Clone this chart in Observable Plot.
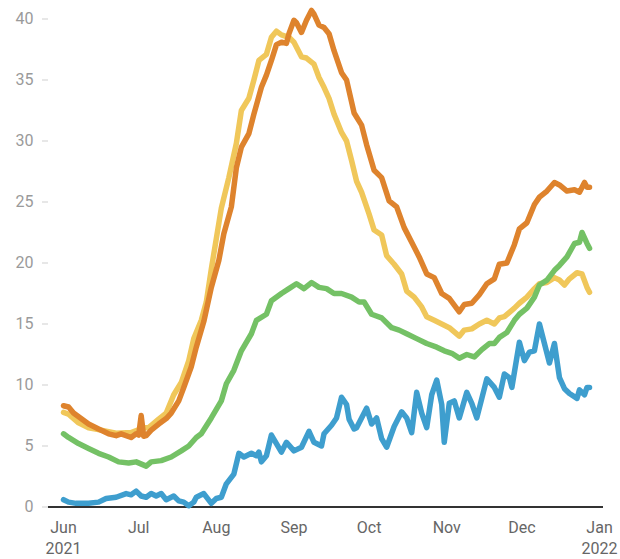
<!DOCTYPE html>
<html>
<head>
<meta charset="utf-8">
<script src="https://cdn.jsdelivr.net/npm/d3@7"></script>
<script src="https://cdn.jsdelivr.net/npm/@observablehq/plot@0.6"></script>
<style>
  html, body { margin: 0; padding: 0; background: #fff; overflow: hidden; }
</style>
</head>
<body>
<div id="chart"></div>
<script>
// Day index counted from 1 June 2021
const startDate = "2021-06-01";

const orangeSeries = [[0,8.3],[2,8.2],[4,7.7],[7,7.25],[10,6.8],[14,6.4],[18,6.0],[21,5.85],[23,6.0],[27,5.7],[29,6.0],[30,5.9],[31,7.5],[32,5.8],[33,5.85],[35,6.3],[38,6.8],[41,7.25],[43,7.7],[46,8.7],[48,9.8],[51,11.5],[53,13.1],[56,15.2],[59,18.0],[62,20.2],[64,22.4],[67,24.6],[69,27.8],[71,29.5],[74,30.6],[76,32.2],[79,34.4],[81,35.4],[83,36.6],[85,37.9],[87,38.1],[89,38.0],[90,38.8],[92,39.9],[93,39.7],[95,38.9],[97,39.9],[99,40.7],[100,40.4],[102,39.5],[104,39.3],[106,38.8],[108,37.4],[111,35.6],[113,35.0],[116,32.3],[119,31.3],[121,29.7],[124,27.6],[127,27.0],[130,25.1],[133,24.6],[136,22.9],[139,21.7],[142,20.5],[145,19.1],[148,18.8],[151,17.5],[154,17.1],[158,16.0],[160,16.6],[163,16.7],[166,17.4],[169,18.3],[172,18.7],[174,19.9],[177,20.0],[180,21.5],[182,22.8],[185,23.3],[188,24.8],[190,25.4],[193,25.9],[196,26.6],[198,26.4],[201,25.9],[204,26.0],[206,25.8],[208,26.6],[209,26.2],[210,26.2]];

const yellowSeries = [[0,7.75],[2,7.6],[6,6.9],[10,6.5],[15,6.3],[21,6.05],[27,6.1],[32,6.5],[34,6.5],[38,7.2],[41,7.7],[44,9.2],[47,10.2],[50,12.0],[52,13.8],[55,15.3],[57,16.8],[59,19.5],[61,22.0],[63,24.5],[66,27.0],[69,29.8],[71,32.5],[74,33.5],[76,35.0],[78,36.6],[81,37.1],[83,38.5],[85,39.0],[87,38.7],[90,38.5],[92,38.1],[95,36.9],[97,36.8],[100,36.3],[102,35.2],[104,34.4],[106,33.5],[108,32.2],[111,30.7],[113,30.0],[115,28.4],[117,26.7],[119,25.8],[122,24.0],[124,22.7],[127,22.3],[129,20.6],[132,19.9],[135,19.1],[137,17.7],[140,17.2],[143,16.4],[145,15.6],[148,15.3],[151,15.0],[154,14.7],[158,14.0],[160,14.5],[163,14.6],[166,15.0],[169,15.3],[172,15.0],[174,15.5],[176,15.6],[180,16.3],[182,16.7],[185,17.2],[188,17.9],[190,18.3],[193,18.4],[196,18.8],[198,18.6],[200,18.2],[202,18.7],[205,19.2],[207,19.1],[209,18.0],[210,17.6]];

const greenSeries = [[0,6.0],[2,5.7],[6,5.2],[10,4.8],[14,4.4],[18,4.1],[22,3.7],[26,3.6],[29,3.7],[33,3.35],[35,3.7],[39,3.8],[43,4.1],[47,4.6],[50,5.0],[53,5.7],[55,6.0],[59,7.3],[63,8.7],[65,10.1],[68,11.2],[71,12.8],[75,14.2],[77,15.3],[81,15.8],[83,16.9],[87,17.5],[90,17.9],[93,18.3],[96,17.9],[99,18.4],[102,18.0],[105,17.9],[108,17.5],[111,17.5],[115,17.2],[118,16.8],[120,16.8],[123,15.8],[127,15.5],[131,14.7],[134,14.5],[137,14.2],[141,13.8],[145,13.4],[149,13.1],[152,12.8],[155,12.6],[158,12.2],[161,12.5],[164,12.3],[167,12.9],[170,13.4],[172,13.4],[174,13.9],[177,14.3],[180,15.3],[182,15.8],[185,16.3],[188,17.2],[190,18.2],[193,18.6],[196,19.4],[198,19.8],[201,20.5],[204,21.6],[206,21.7],[207,22.5],[209,21.6],[210,21.2]];

const blueSeries = [[0,0.6],[2,0.4],[5,0.3],[10,0.3],[14,0.4],[17,0.7],[21,0.8],[25,1.1],[27,1.0],[29,1.3],[31,0.9],[33,0.8],[35,1.1],[37,0.9],[39,1.1],[41,0.6],[44,0.9],[46,0.5],[48,0.4],[50,0.1],[52,0.4],[53,0.8],[56,1.1],[59,0.3],[61,0.7],[63,0.8],[65,1.9],[68,2.7],[70,4.4],[72,4.1],[75,4.4],[77,4.2],[78,4.5],[79,3.7],[81,4.2],[83,5.9],[85,5.2],[87,4.5],[89,5.3],[92,4.6],[95,4.9],[98,6.2],[100,5.3],[103,5.0],[104,6.0],[107,6.7],[109,7.3],[111,9.0],[113,8.4],[114,7.2],[116,6.4],[117,6.5],[119,7.3],[121,8.1],[123,6.8],[125,7.3],[127,5.6],[129,4.9],[132,6.6],[135,7.8],[137,7.3],[139,6.1],[141,9.4],[143,7.7],[145,6.5],[147,9.2],[149,10.4],[151,8.4],[152,5.3],[154,8.5],[156,8.7],[158,7.3],[161,9.4],[163,8.5],[165,7.3],[167,8.9],[169,10.5],[172,9.8],[174,9.0],[176,10.9],[178,10.6],[179,9.8],[182,13.5],[184,12.0],[186,12.7],[188,12.8],[190,15.0],[192,13.4],[194,11.8],[196,13.4],[198,10.6],[200,9.7],[202,9.3],[205,8.9],[206,9.6],[208,9.2],[209,9.8],[210,9.8]];

const yTicks = [0, 5, 10, 15, 20, 25, 30, 35, 40];
const monthTicks = ["2021-06-01","2021-07-01","2021-08-01","2021-09-01","2021-10-01","2021-11-01","2021-12-01","2022-01-01"];
const monthLabels = ["Jun\n2021","Jul","Aug","Sep","Oct","Nov","Dec","Jan\n2022"];
const xDomain = ["2021-05-26T00:00:00Z", "2022-01-02T14:00:00Z"];

const start = new Date(startDate + "T00:00:00Z");
const rows = (pairs) => pairs.map(([d, v]) => ({date: d3.utcDay.offset(start, d), value: v}));
const tickDates = monthTicks.map(s => new Date(s + "T00:00:00Z"));
const labelOf = new Map(tickDates.map((d, i) => [+d, monthLabels[i]]));

const lineOpts = (color) => ({x: "date", y: "value", stroke: color, strokeWidth: 5.5, strokeLinejoin: "round", strokeLinecap: "round"});

const chart = Plot.plot({
  width: 620,
  height: 559,
  marginLeft: 48,
  marginRight: 17,
  marginTop: 18.5,
  marginBottom: 52.5,
  style: {fontFamily: "Roboto, sans-serif", fontSize: "16px", background: "#fff"},
  x: {type: "utc", domain: xDomain.map(s => new Date(s))},
  y: {domain: [0, 40]},
  marks: [
    Plot.axisY({ticks: yTicks, tickSize: 6, text: null, color: "#cfcfcf", label: null}),
    Plot.axisY({ticks: yTicks, tickSize: 0, tickPadding: 15, color: "#9a9a9a", label: null}),
    Plot.axisX({ticks: tickDates, tickSize: 0, tickPadding: 11, color: "#666", label: null, lineHeight: 1.3,
      tickFormat: d => labelOf.get(+d)}),
    Plot.ruleY([0], {stroke: "#333", strokeWidth: 2}),
    Plot.lineY(rows(yellowSeries), lineOpts("#F0C75A")),
    Plot.lineY(rows(orangeSeries), lineOpts("#DE832D")),
    Plot.lineY(rows(greenSeries), lineOpts("#74C165")),
    Plot.lineY(rows(blueSeries), lineOpts("#3E9ECE"))
  ]
});
document.getElementById("chart").appendChild(chart);
</script>
</body>
</html>
